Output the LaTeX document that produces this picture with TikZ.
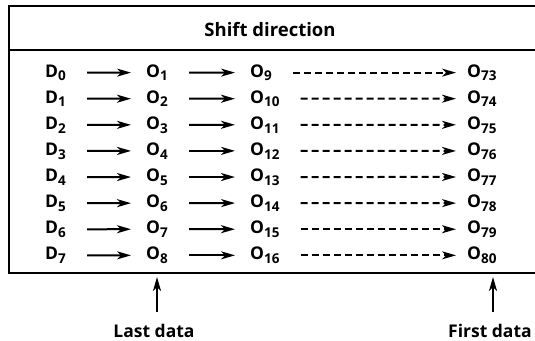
\documentclass[tikz,border=0pt]{standalone}
\usepackage{fontspec}
\setmainfont{Open Sans}
\usetikzlibrary{arrows.meta}

\newcommand{\idx}[1]{\raisebox{-0.4ex}{\fontsize{13.5}{13}\selectfont#1}}

\tikzset{
  cell/.style={anchor=base west,inner sep=0pt,font=\fontsize{17.5}{20}\selectfont\bfseries},
  lbl/.style={inner sep=0pt,font=\fontsize{17.5}{20}\selectfont\bfseries},
  shiftarrow/.style={-{Stealth[length=14pt,width=8pt,inset=4pt]},line width=2pt},
  link/.style={shiftarrow,shorten <=21pt,shorten >=15pt},
  dashlink/.style={shiftarrow,shorten <=21pt,shorten >=11pt,dash pattern=on 7pt off 4pt}
}

\begin{document}
\begin{tikzpicture}[x=1pt,y=-1pt]
  \useasboundingbox (0,0) rectangle (535,340);
  \clip (0,0) rectangle (535,340);
  % frame with header
  \draw[line width=2.6pt] (9,6) rectangle (545,273);
  \draw[line width=2.4pt] (9,50) -- (545,50);
  \node[lbl,anchor=base,font=\fontsize{18.5}{20}\selectfont\bfseries] (head) at (270,36.5) {Shift direction};
  % rows of the shift register
  \foreach \i in {0,...,7} {
    \pgfmathtruncatemacro{\a}{\i+1}
    \pgfmathtruncatemacro{\b}{\i+9}
    \pgfmathtruncatemacro{\c}{\i+73}
    \node[cell] (d\i) at (45,77+26.1*\i) {D\idx{\i}};
    \node[cell] (a\i) at (146,77+26.1*\i) {O\idx{\a}};
    \node[cell] (b\i) at (250,77+26.1*\i) {O\idx{\b}};
    \node[cell] (c\i) at (467,77+26.1*\i) {O\idx{\c}};
    \path
      (d\i) edge[link] (a\i)
      (a\i) edge[link] (b\i)
      (b\i) edge[dashlink] (c\i);
  }
  % markers below the frame
  \node[lbl,anchor=base] (last) at (154,337) {Last data};
  \node[lbl,anchor=base west] (first) at (448,337) {First data};
  \coordinate (lastpt) at (157,277);
  \coordinate (firstpt) at (493,277);
  \draw[shiftarrow,shorten <=12pt] (lastpt |- last.north) -- (lastpt);
  \draw[shiftarrow,shorten <=12pt] (firstpt |- first.north) -- (firstpt);
\end{tikzpicture}
\end{document}
